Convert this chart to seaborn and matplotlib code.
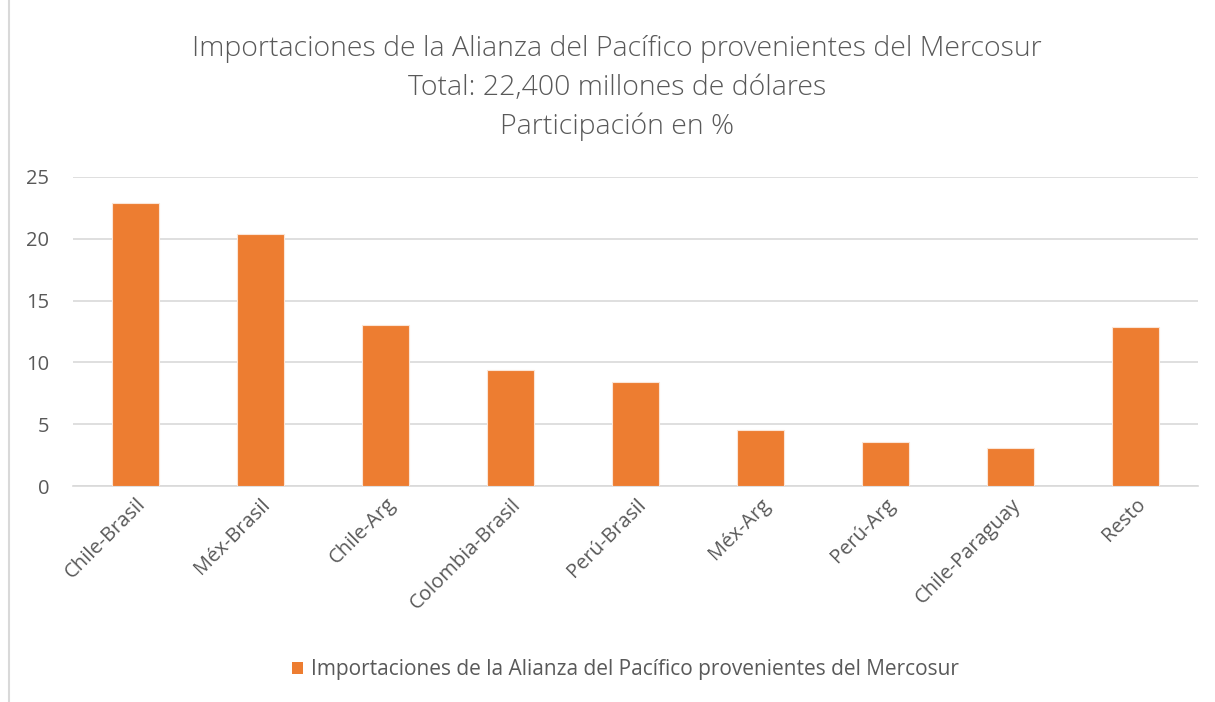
import matplotlib
matplotlib.use("Agg")
import matplotlib.pyplot as plt
import seaborn as sns
from matplotlib.lines import Line2D
from matplotlib.patches import Patch
from matplotlib.ticker import FixedLocator

# datos
categorias = ['Chile-Brasil', 'Méx-Brasil', 'Chile-Arg', 'Colombia-Brasil', 'Perú-Brasil',
              'Méx-Arg', 'Perú-Arg', 'Chile-Paraguay', 'Resto']
participacion = [22.9, 20.4, 13.0, 9.4, 8.4, 4.5, 3.6, 3.1, 12.9]
serie = 'Importaciones de la Alianza del Pacífico provenientes del Mercosur'
titulo = ('Importaciones de la Alianza del Pacífico provenientes del Mercosur\n'
          'Total: 22,400 millones de dólares\n'
          'Participación en %')

sns.set_style('white')
plt.rcParams['font.family'] = ['Open Sans', 'DejaVu Sans']

naranja = '#ED7D31'
gris_txt = '#595959'
gris_lin = '#D9D9D9'

W, H = 1215, 702
fig = plt.figure(figsize=(W / 100, H / 100), dpi=100)
ax = fig.add_axes([73 / W, 1 - 486 / H, (1198 - 73) / W, (486 - 177) / H])

sns.barplot(x=categorias, y=participacion, color=naranja, saturation=1,
            width=0.37, edgecolor='#FBE5D6', linewidth=0.8, ax=ax, zorder=3)

ax.set_ylim(0, 25)
ax.set_xlim(-0.5, len(categorias) - 0.5)
ax.set_yticks([0, 5, 10, 15, 20, 25])
ax.yaxis.grid(True, color=gris_lin, linewidth=1.2, zorder=0)
ax.set_axisbelow(True)
for s in ['top', 'right', 'left']:
    ax.spines[s].set_visible(False)
ax.spines['bottom'].set_color(gris_lin)
ax.spines['bottom'].set_linewidth(1.2)

ax.tick_params(axis='y', length=0, labelsize=14.5, labelcolor=gris_txt, pad=17)
ax.tick_params(axis='x', which='major', length=0, labelsize=14.5, labelcolor=gris_txt, pad=6)
ax.xaxis.set_minor_locator(FixedLocator([i - 0.5 for i in range(len(categorias) + 1)]))
ax.tick_params(axis='x', which='minor', length=6, width=1.2, color=gris_lin)
plt.setp(ax.get_xticklabels(), rotation=45, ha='right', rotation_mode='anchor')
ax.set_xlabel('')
ax.set_ylabel('')

fig.text(0.508, 1 - 88 / H, titulo, ha='center', va='center', fontsize=20.5,
         color=gris_txt, linespacing=1.5, fontweight='light')

fig.legend(handles=[Patch(facecolor=naranja, edgecolor='none')], labels=[serie],
           loc='center', bbox_to_anchor=(0.515, 1 - 670 / H), frameon=False,
           fontsize=15, labelcolor=gris_txt, handlelength=0.5, handleheight=0.5,
           handletextpad=0.4)

fig.add_artist(Line2D([8.5 / W, 8.5 / W], [0, 1], color=gris_lin, linewidth=1.5))

plt.savefig('out.png', dpi=100, facecolor='white')
